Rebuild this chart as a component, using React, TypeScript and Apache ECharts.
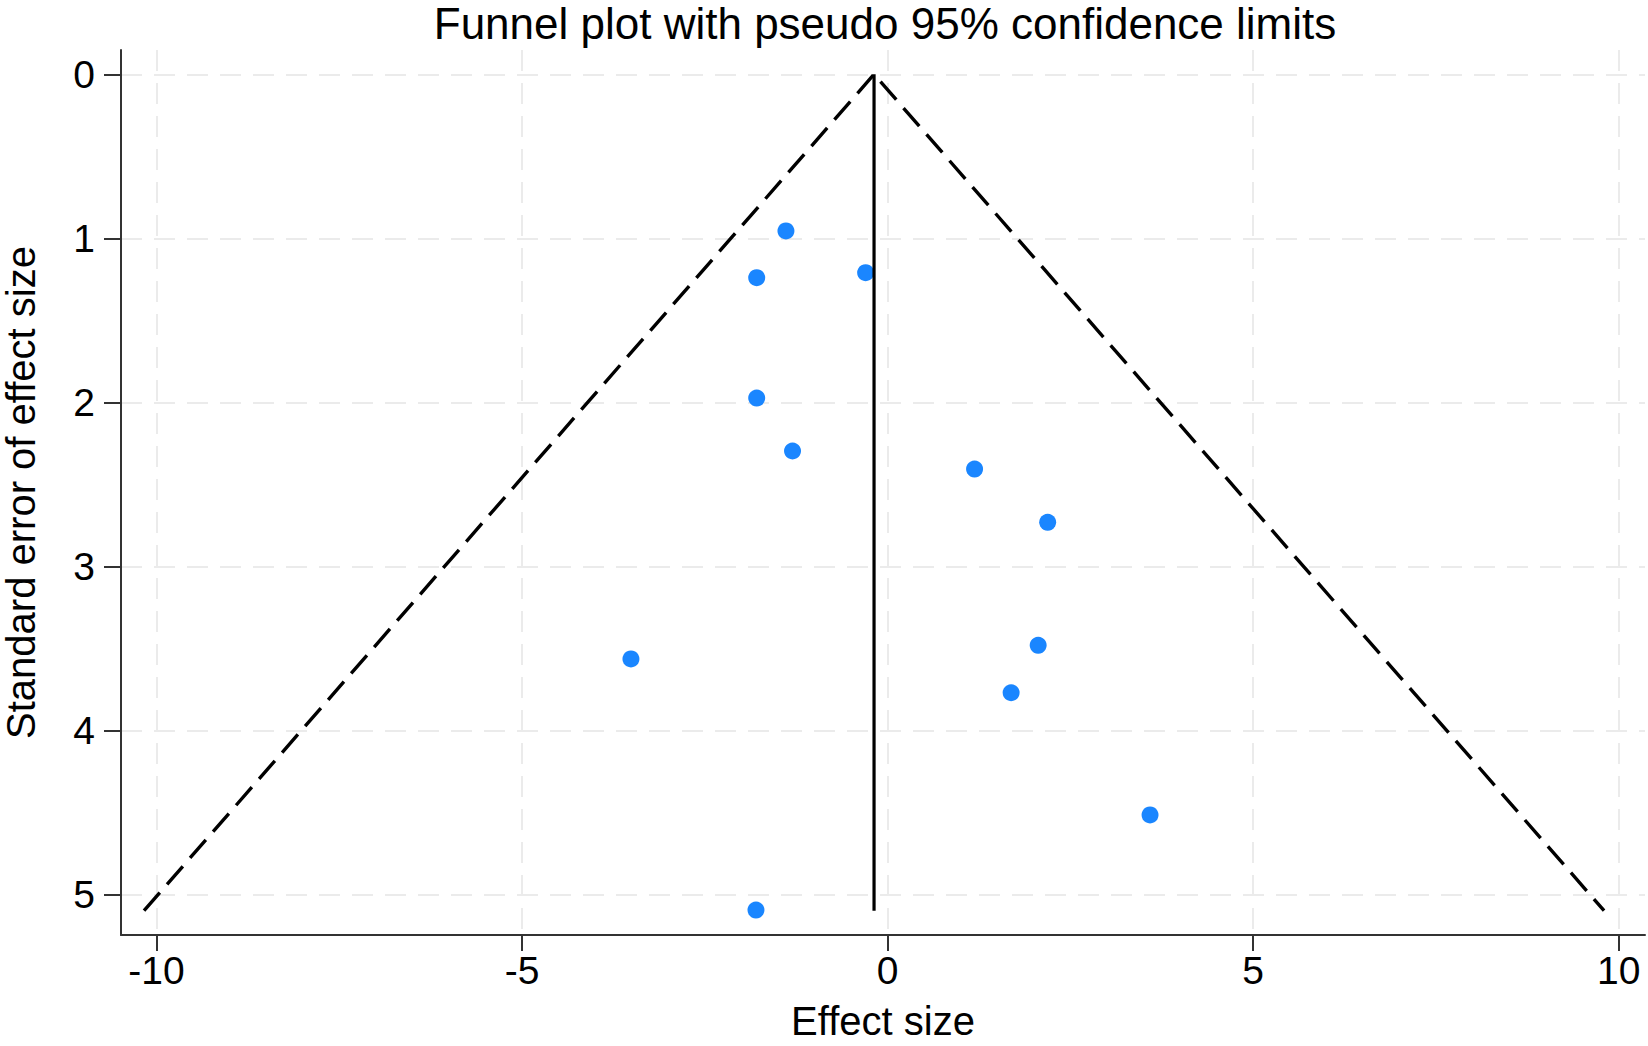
import { useEffect, useRef } from 'react';
import * as echarts from 'echarts';

// study points: [effect size, standard error]
const studyPoints: [number, number][] = [
  [-1.39, 0.955],
  [-1.79, 1.24],
  [-0.3, 1.21],
  [-1.79, 1.974],
  [-1.3, 2.297],
  [1.19, 2.407],
  [2.19, 2.732],
  [-3.51, 3.565],
  [2.06, 3.482],
  [1.69, 3.771],
  [3.59, 4.516],
  [-1.8, 5.096],
];

// pseudo 95% limits and pooled estimate line
const funnelLimits: [number, number][] = [
  [-10.17, 5.1],
  [-0.185, 0],
  [9.8, 5.1],
];
const pooledLine: [number, number][] = [
  [-0.185, 0],
  [-0.185, 5.1],
];

const xTicks = [-10, -5, 0, 5, 10];
const yTicks = [0, 1, 2, 3, 4, 5];

const FONT = 'Liberation Sans, Arial, sans-serif';

const App = () => {
  const chartRef = useRef<HTMLDivElement>(null);

  useEffect(() => {
    if (!chartRef.current) return;
    const chart = echarts.init(chartRef.current, undefined, { renderer: 'svg' });

    const axisColor = '#333';
    const gridStyle = { color: '#ebebeb', width: 2, type: [21, 12] as number[] };

    const option = {
      animation: false,
      backgroundColor: '#fff',
      title: {
        text: 'Funnel plot with pseudo 95% confidence limits',
        left: 880,
        top: -4,
        textAlign: 'center',
        textStyle: { fontFamily: FONT, fontSize: 44, fontWeight: 'normal', color: '#000' },
      },
      grid: {
        left: 121,
        right: 3,
        top: 50,
        bottom: 111,
        containLabel: false,
        outerBoundsMode: 'none',
      },
      xAxis: {
        type: 'value',
        min: -10.485,
        max: 10.36,
        name: 'Effect size',
        nameLocation: 'middle',
        nameGap: 70,
        nameTextStyle: { fontFamily: FONT, fontSize: 40, lineHeight: 31, color: '#000' },
        axisLine: { onZero: false, lineStyle: { color: axisColor, width: 2 } },
        axisTick: { show: true, length: 16, customValues: xTicks, lineStyle: { color: axisColor, width: 2 } },
        axisLabel: { customValues: xTicks, margin: 16, fontFamily: FONT, fontSize: 39, color: '#000' },
        splitLine: { show: true, lineStyle: gridStyle },
      },
      yAxis: {
        type: 'value',
        inverse: true,
        min: -0.148,
        max: 5.248,
        name: 'Standard error of effect size',
        nameLocation: 'middle',
        nameGap: 80,
        nameTextStyle: { fontFamily: FONT, fontSize: 40, color: '#000' },
        axisLine: { show: true, onZero: false, lineStyle: { color: axisColor, width: 2 } },
        axisTick: { show: true, length: 17, customValues: yTicks, lineStyle: { color: axisColor, width: 2 } },
        axisLabel: { customValues: yTicks, margin: 26, fontFamily: FONT, fontSize: 39, color: '#000' },
        splitLine: { show: true, lineStyle: gridStyle },
      },
      series: [
        {
          type: 'scatter',
          data: studyPoints,
          symbolSize: 17,
          itemStyle: { color: '#1a86ff', opacity: 1 },
          z: 2,
        },
        {
          type: 'line',
          data: funnelLimits,
          symbol: 'none',
          lineStyle: { color: '#000', width: 3.4, type: [24, 11] },
          z: 3,
        },
        {
          type: 'line',
          data: pooledLine,
          symbol: 'none',
          lineStyle: { color: '#000', width: 3.2 },
          z: 3,
        },
      ],
    };

    chart.setOption(option);

    const handleResize = () => chart.resize();
    window.addEventListener('resize', handleResize);

    return () => {
      chart.dispose();
      window.removeEventListener('resize', handleResize);
    };
  }, []);

  return (
    <div
      ref={chartRef}
      style={{ position: 'absolute', left: 0, top: 0, width: '1648px', height: '1046px' }}
    />
  );
};

export default App;
